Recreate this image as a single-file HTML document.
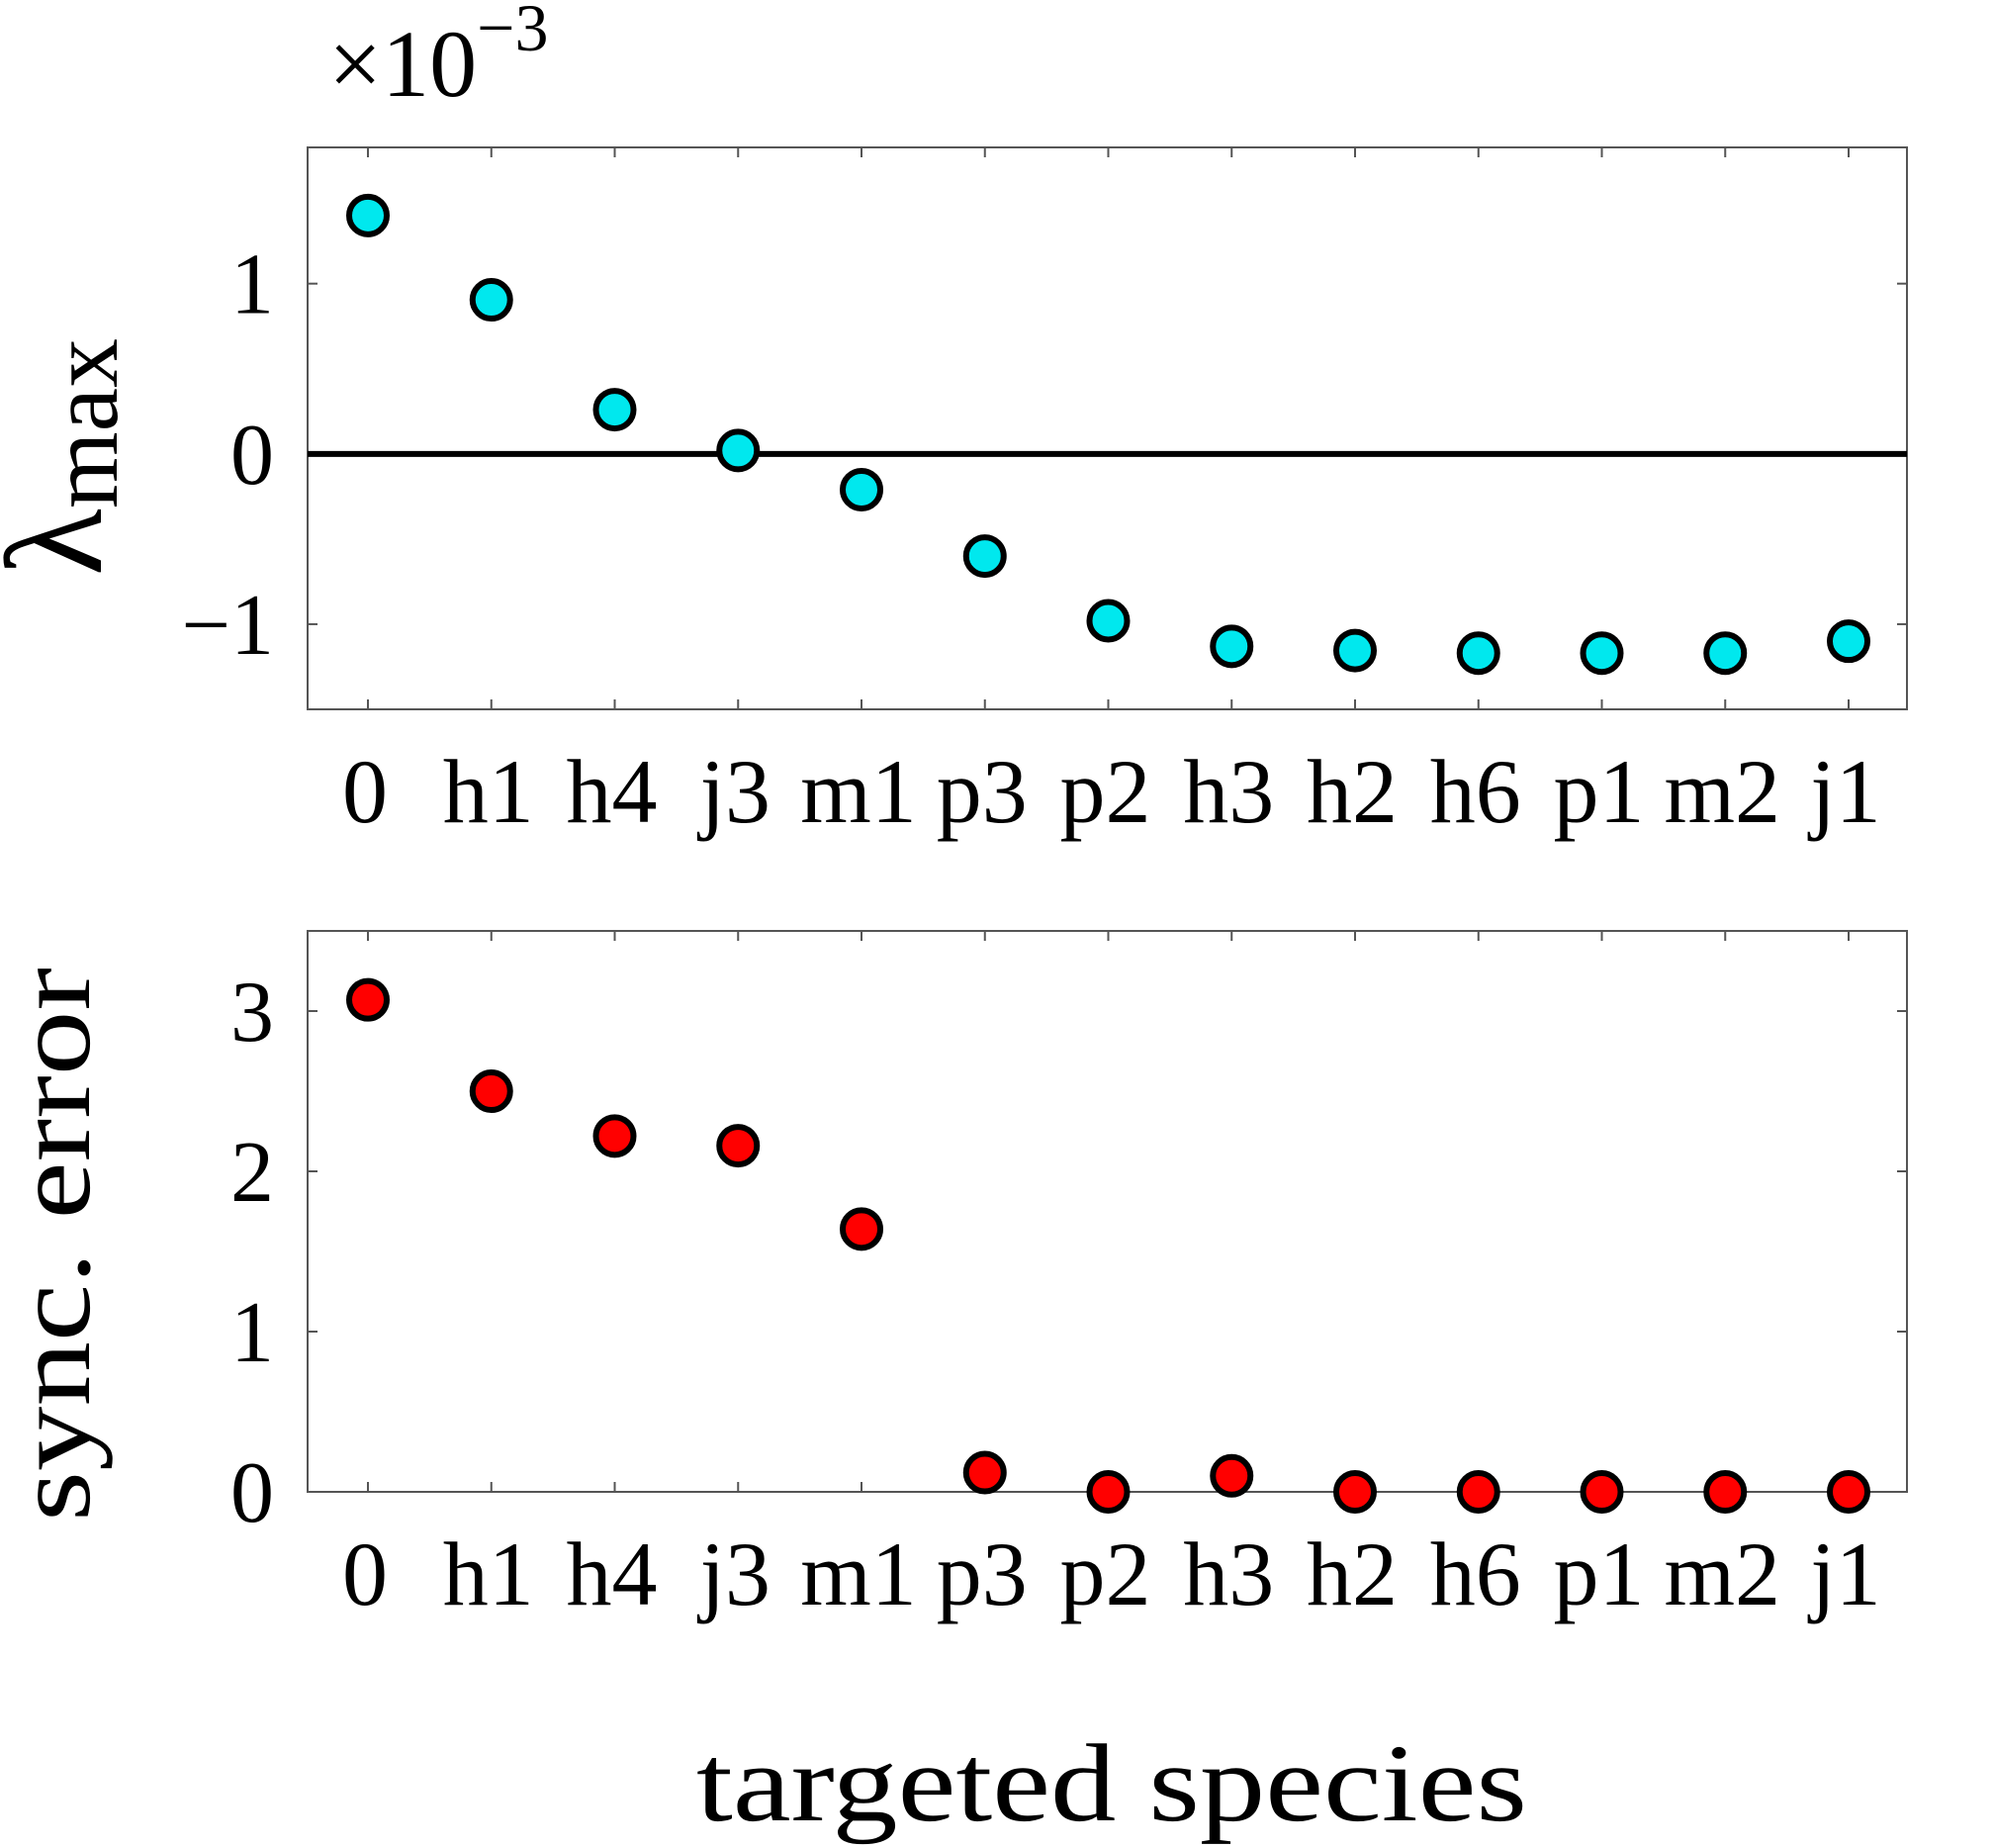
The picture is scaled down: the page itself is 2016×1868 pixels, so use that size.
<!DOCTYPE html>
<html><head><meta charset="utf-8">
<style>html,body{margin:0;padding:0;background:#fff}svg{display:block}</style>
</head><body>
<svg id="chart" width="2016" height="1868" viewBox="0 0 2016 1868" xmlns="http://www.w3.org/2000/svg" font-family="'Liberation Serif', serif">
<text x="332" y="97" font-size="96">×10<tspan dy="-46" font-size="68">−3</tspan></text>
<text transform="translate(102,462) rotate(-90)" text-anchor="middle" font-size="140">λ<tspan font-size="100" dy="16">max</tspan></text>
<text transform="translate(90,1258) rotate(-90)" text-anchor="middle" font-size="110" textLength="560" lengthAdjust="spacingAndGlyphs">sync. error</text>
<text x="1124" y="1840" text-anchor="middle" font-size="112" textLength="840" lengthAdjust="spacingAndGlyphs">targeted species</text>
<g id="top"></g>
<g id="bot"></g>
</svg>
<script>
const categories = ["0","h1","h4","j3","m1","p3","p2","h3","h2","h6","p1","m2","j1"];
const lambdaValues = [1.40,0.905,0.26,0.02,-0.21,-0.60,-0.98,-1.13,-1.155,-1.17,-1.17,-1.17,-1.10];
const syncValues = [3.07,2.50,2.22,2.16,1.64,0.12,0,0.10,0,0,0,0,0];
const topTicks = [-1,0,1];
const topTickLabels = ["−1","0","1"];
const botTicks = [0,1,2,3];
const botTickLabels = ["0","1","2","3"];
const topDomain = [-1.5,1.8];
const botDomain = [0,3.5];

const NS="http://www.w3.org/2000/svg";
const L=311,R=1928;
const xs=i=>372+i*(1869-372)/(categories.length-1);
function mk(tag,attrs,parent){const e=document.createElementNS(NS,tag);for(const k in attrs)e.setAttribute(k,attrs[k]);parent.appendChild(e);return e;}

function panel(g,top,bottom,domain,ticks,tickLabels,vals,color,name,zeroLine){
  const ys=v=>bottom-(v-domain[0])/(domain[1]-domain[0])*(bottom-top);
  const box=mk('rect',{x:L,y:top,width:R-L,height:bottom-top,fill:'none',stroke:'#555','stroke-width':2},g);
  
  
  ticks.forEach((t,i)=>{
    const y=ys(t);
    mk('line',{x1:L,x2:L+10,y1:y,y2:y,stroke:'#555','stroke-width':2},g);
    mk('line',{x1:R,x2:R-10,y1:y,y2:y,stroke:'#555','stroke-width':2},g);
    const tl=mk('text',{x:277,y:y+30,'text-anchor':'end','font-size':88},g);
    tl.textContent=tickLabels[i];
    
    
  });
  categories.forEach((c,i)=>{
    const x=xs(i);
    mk('line',{x1:x,x2:x,y1:top,y2:top+10,stroke:'#555','stroke-width':2},g);
    mk('line',{x1:x,x2:x,y1:bottom,y2:bottom-10,stroke:'#555','stroke-width':2},g);
    const tl=mk('text',{x:x-3,y:bottom+114,'text-anchor':'middle','font-size':92},g);
    tl.textContent=c;
    
    
  });
  if(zeroLine){
    const zl=mk('line',{x1:L,x2:R,y1:ys(0),y2:ys(0),stroke:'#000','stroke-width':6},g);
    
    
  }
  vals.forEach((v,i)=>{
    const c=mk('circle',{cx:xs(i),cy:ys(v),r:19,fill:color,stroke:'#000','stroke-width':6},g);
    
    
  });
}
panel(document.getElementById('top'),149,717,topDomain,topTicks,topTickLabels,lambdaValues,'#00e8ee','lambda',true);
panel(document.getElementById('bot'),941,1508,botDomain,botTicks,botTickLabels,syncValues,'#ff0000','sync',false);
</script>
</body></html>
